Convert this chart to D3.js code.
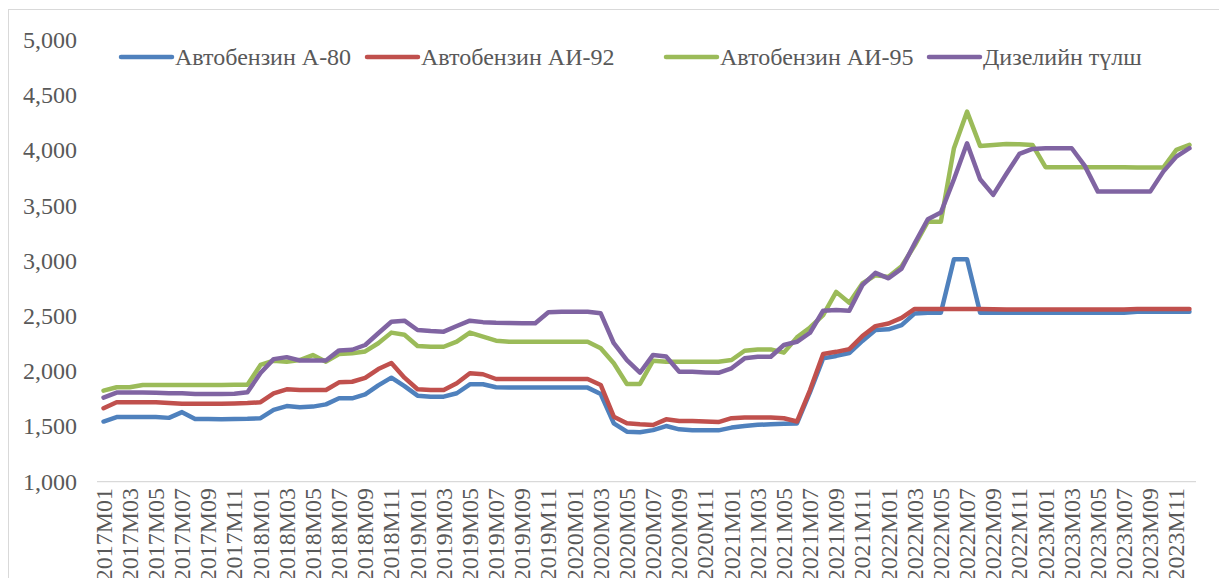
<!DOCTYPE html>
<html>
<head>
<meta charset="utf-8">
<script src="https://cdn.jsdelivr.net/npm/d3@7"></script>
</head>
<body style="margin:0">
<div id="vis-container"></div>
<script>
// categories: monthly periods 2017M01 .. 2023M12
const years = [2017, 2018, 2019, 2020, 2021, 2022, 2023];
const monthNums = ["01", "02", "03", "04", "05", "06", "07", "08", "09", "10", "11", "12"];
const periods = [];
years.forEach((y) => monthNums.forEach((m) => periods.push(y + "M" + m)));

const seriesNames = ["Автобензин А-80", "Автобензин АИ-92", "Автобензин АИ-95", "Дизелийн түлш"];
const seriesColors = ["#4F81BD", "#C0504D", "#9BBB59", "#8064A2"];

// values
const a80 = [
  1545, 1585, 1585, 1585, 1585, 1578, 1630, 1568, 1568, 1565, 1568, 1570,
  1575, 1650, 1685, 1675, 1680, 1700, 1755, 1755, 1790, 1872, 1942, 1865,
  1779, 1770, 1770, 1801, 1882, 1882, 1855, 1852, 1852, 1852, 1852, 1852,
  1852, 1852, 1794, 1529, 1453, 1447, 1467, 1504, 1474, 1467, 1465, 1465,
  1490, 1505, 1515, 1520, 1525, 1527, 1810, 2117, 2139, 2165, 2275, 2373,
  2380, 2418, 2524, 2530, 2530, 3015, 3015, 2530, 2530, 2530, 2530, 2530,
  2530, 2530, 2530, 2530, 2530, 2530, 2530, 2540, 2540, 2540, 2540, 2540
];
const ai92 = [
  1665, 1720, 1720, 1720, 1720, 1712, 1705, 1705, 1705, 1705, 1708, 1712,
  1720, 1800, 1837, 1830, 1830, 1830, 1900, 1905, 1940, 2020, 2075, 1942,
  1837, 1830, 1830, 1891, 1982, 1973, 1930, 1930, 1930, 1930, 1930, 1930,
  1930, 1930, 1876, 1589, 1529, 1520, 1514, 1565, 1550, 1550, 1545, 1540,
  1575, 1581, 1581, 1581, 1575, 1545, 1830, 2156, 2176, 2201, 2319, 2409,
  2433, 2484, 2565, 2565, 2565, 2565, 2565, 2565, 2562, 2560, 2560, 2560,
  2560, 2560, 2560, 2560, 2560, 2560, 2560, 2565, 2565, 2565, 2565, 2565
];
const ai95 = [
  1825, 1855, 1855, 1876, 1876, 1876, 1876, 1876, 1876, 1876, 1878, 1878,
  2057, 2096, 2087, 2102, 2147, 2087, 2157, 2163, 2180, 2254, 2350, 2330,
  2229, 2222, 2222, 2268, 2350, 2313, 2277, 2268, 2268, 2268, 2268, 2268,
  2268, 2268, 2208, 2072, 1885, 1885, 2096, 2087, 2087, 2087, 2087, 2087,
  2102, 2186, 2198, 2198, 2169, 2307, 2397, 2508, 2719, 2620, 2795, 2870,
  2855, 2951, 3140, 3355, 3355, 4020, 4351, 4041, 4050, 4059, 4056, 4050,
  3848, 3848, 3848, 3848, 3848, 3848, 3848, 3845, 3845, 3845, 4005, 4050
];
const diesel = [
  1762, 1807, 1807, 1807, 1805, 1802, 1800, 1795, 1795, 1795, 1797, 1810,
  1985, 2110, 2128, 2098, 2098, 2098, 2189, 2195, 2238, 2344, 2449, 2458,
  2374, 2365, 2359, 2410, 2458, 2445, 2440, 2438, 2436, 2435, 2535, 2540,
  2540, 2540, 2525, 2254, 2102, 1987, 2148, 2133, 1996, 1996, 1990, 1986,
  2027, 2117, 2132, 2132, 2238, 2267, 2349, 2548, 2554, 2548, 2780, 2891,
  2842, 2930, 3159, 3377, 3437, 3739, 4065, 3739, 3597, 3787, 3968, 4014,
  4020, 4020, 4020, 3860, 3627, 3627, 3627, 3627, 3627, 3808, 3944, 4020
];
const yTicks = [1000, 1500, 2000, 2500, 3000, 3500, 4000, 4500, 5000];

const seriesValues = [a80, ai92, ai95, diesel];

const W = 1219, H = 578;
const textColor = "#595959";

var svg = d3
  .select("#vis-container")
  .append("svg")
  .attr("width", W)
  .attr("height", H);

// outer chart border
svg
  .append("rect")
  .attr("x", 8.5)
  .attr("y", 9.5)
  .attr("width", W)
  .attr("height", H)
  .attr("fill", "none")
  .attr("stroke", "#d9d9d9");

// scales
const x = d3.scalePoint().domain(periods).range([97, 1196]).padding(0.5);
const y = d3.scaleLinear().domain([1000, 5000]).range([481.7, 40]);

// y labels, no axis line
svg
  .append("g")
  .selectAll("text")
  .data(yTicks)
  .enter()
  .append("text")
  .style("font-family", "Liberation Serif")
  .style("font-size", "24px")
  .attr("x", 77)
  .attr("y", (d) => y(d) + 8)
  .attr("text-anchor", "end")
  .attr("fill", textColor)
  .text(d3.format(","));

// x axis line
svg
  .append("line")
  .attr("x1", 97)
  .attr("x2", 1196)
  .attr("y1", y(1000))
  .attr("y2", y(1000))
  .attr("stroke", "#d9d9d9")
  .attr("stroke-width", 1.3);

// x labels every second month, rotated
svg
  .append("g")
  .selectAll("text")
  .data(periods.filter((d, i) => i % 2 === 0))
  .enter()
  .append("text")
  .style("font-family", "Liberation Serif")
  .style("font-size", "24px")
  .attr("transform", (d) => "translate(" + (x(d) + 8) + ",488) rotate(-90)")
  .attr("text-anchor", "end")
  .attr("fill", textColor)
  .text((d) => d);

// lines
const line = d3
  .line()
  .x((d, i) => x(periods[i]))
  .y((d) => y(d));

svg
  .append("g")
  .selectAll("path")
  .data(seriesValues)
  .enter()
  .append("path")
  .attr("d", line)
  .attr("fill", "none")
  .attr("stroke", (d, i) => seriesColors[i])
  .attr("stroke-width", 4.5)
  .attr("stroke-linejoin", "round")
  .attr("stroke-linecap", "round");

// legend
const legendX = [121, 367, 666, 929];
const legendY = 57;
const legend = svg
  .append("g")
  .selectAll("g")
  .data(seriesNames)
  .enter()
  .append("g")
  .attr("transform", (d, i) => "translate(" + legendX[i] + "," + legendY + ")");

legend
  .append("line")
  .attr("x1", 0)
  .attr("x2", 51)
  .attr("stroke", (d, i) => seriesColors[i])
  .attr("stroke-width", 4.5)
  .attr("stroke-linecap", "round");

legend
  .append("text")
  .style("font-family", "Liberation Serif")
  .style("font-size", "24px")
  .attr("x", 54)
  .attr("y", 8)
  .attr("fill", textColor)
  .text((d) => d);
</script>
</body>
</html>
